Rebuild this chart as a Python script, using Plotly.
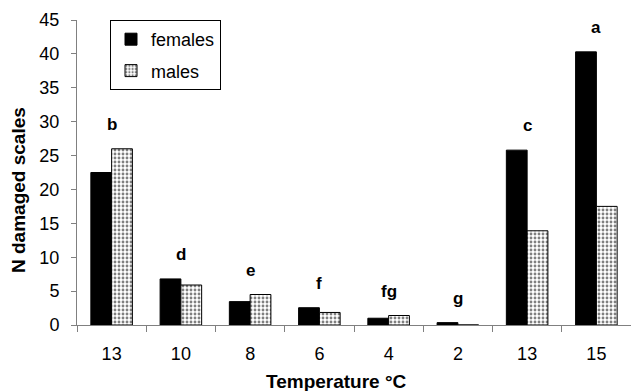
import plotly.graph_objects as go

categories = ["13", "10", "8", "6", "4", "2", "13", "15"]
females = [22.5, 6.8, 3.45, 2.55, 1.0, 0.35, 25.8, 40.3]
males = [26.0, 5.9, 4.5, 1.85, 1.4, 0.0, 13.9, 17.5]
letters = ["b", "d", "e", "f", "fg", "g", "c", "a"]

ids = [f"c{i}" for i in range(len(categories))]
FONT = "Liberation Sans, Arial, sans-serif"
PW = 554
PH = 305

fig = go.Figure()
fig.add_trace(go.Bar(
    x=ids, y=females, name="females", legendgroup="f",
    marker=dict(color="black", line=dict(color="black", width=1)),
))
fig.add_trace(go.Bar(
    x=ids, y=males, name="males", legendgroup="m",
    marker=dict(color="white", line=dict(color="black", width=1),
                pattern=dict(shape=".", fgcolor="black", bgcolor="white",
                             size=4, solidity=0.4)),
))

for cid, f, m, lab in zip(ids, females, males, letters):
    fig.add_annotation(x=cid, y=max(f, m), text=f"<b>{lab}</b>", showarrow=False,
                       yanchor="bottom", yshift=13,
                       font=dict(family=FONT, size=17, color="black"))

fig.add_annotation(xref="paper", yref="paper", x=(336 - 77) / PW, y=-(382 - 325) / PH,
                   text="<b>Temperature °C</b>", showarrow=False,
                   yanchor="middle", xanchor="center",
                   font=dict(family=FONT, size=19, color="black"))
fig.add_annotation(xref="paper", yref="paper", x=-(77 - 19) / PW, y=(325 - 190) / PH,
                   text="<b>N damaged scales</b>", showarrow=False, textangle=-90,
                   yanchor="middle", xanchor="center",
                   font=dict(family=FONT, size=19, color="black"))

fig.update_layout(
    width=631, height=391,
    margin=dict(l=77, r=0, t=20, b=66),
    paper_bgcolor="white", plot_bgcolor="white",
    barmode="group", bargap=0.4, bargroupgap=0,
    font=dict(family=FONT, size=18, color="black"),
    showlegend=True,
    legend=dict(x=(110 - 77) / PW, y=1.0, xanchor="left", yanchor="top",
                bordercolor="black", borderwidth=1, bgcolor="white",
                font=dict(size=18), traceorder="grouped", tracegroupgap=5,
                itemwidth=30),
    xaxis=dict(type="category", tickmode="array", tickvals=ids, ticktext=categories,
               tickson="boundaries", ticks="outside", ticklen=6, tickcolor="#808080",
               showline=True, linecolor="#808080", linewidth=1, showgrid=False,
               tickfont=dict(size=18), ticklabelstandoff=12),
    yaxis=dict(range=[0, 45], dtick=5, ticks="outside", ticklen=5, tickcolor="#808080",
               showline=True, linecolor="#808080", linewidth=1, showgrid=False,
               zeroline=False, tickfont=dict(size=18), ticklabelstandoff=8),
)

fig.write_html("out.html")
